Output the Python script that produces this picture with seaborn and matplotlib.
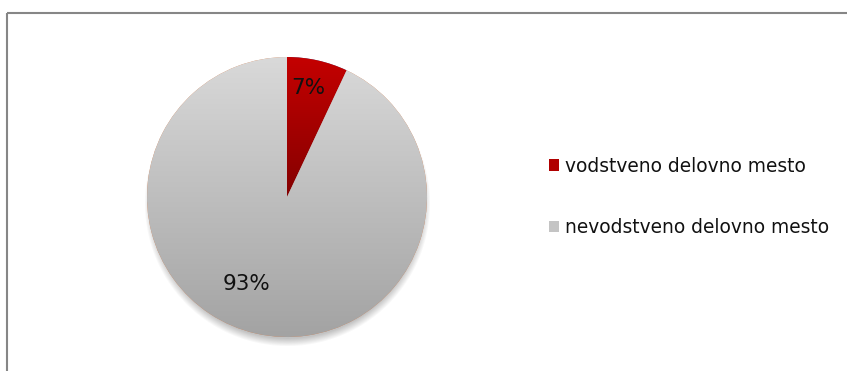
import numpy as np
import matplotlib
matplotlib.use("Agg")
import matplotlib.pyplot as plt
import seaborn as sns
from matplotlib.patches import Patch
from matplotlib.colors import LinearSegmentedColormap

# Share of respondents by type of work position
categories = ["vodstveno delovno mesto", "nevodstveno delovno mesto"]
shares = [7, 93]
top_colors = ["#c40000", "#d9d9d9"]
bottom_colors = ["#840000", "#a3a3a3"]
legend_colors = ["#b00000", "#c4c4c4"]

sns.set_theme(style="white")
plt.rcParams["font.family"] = ["DejaVu Sans"]

W, H = 847, 371
fig = plt.figure(figsize=(W / 100, H / 100), dpi=100)
ax = fig.add_axes([0, 0, 1, 1])
ax.set_xlim(0, W)
ax.set_ylim(0, H)
ax.set_aspect("equal")
ax.axis("off")

cx, cy, r = 287, H - 197, 140

# soft drop shadow under the pie
sx0, sx1, sy0, sy1 = cx - r - 20, cx + r + 20, cy - r - 20, cy + r + 20
yy, xx = np.mgrid[sy1:sy0:-1, sx0:sx1]
d = np.hypot(xx - cx, yy - (cy - 6))
alpha = np.clip((r - 1 - d) / 8.0 + 0.5, 0, 1) * 0.42
shadow = np.zeros(d.shape + (4,))
shadow[..., :3] = 0.45
shadow[..., 3] = alpha
ax.imshow(shadow, extent=[sx0, sx1, sy0, sy1], origin="upper", zorder=0.5,
          interpolation="bilinear")

wedges, texts, autotexts = ax.pie(
    shares, startangle=90, counterclock=False, center=(cx, cy), radius=r,
    autopct="%.0f%%", pctdistance=0.78,
    wedgeprops=dict(linewidth=0),
    textprops=dict(fontsize=15.5, color="#111111"),
)
ax.set_xlim(0, W)
ax.set_ylim(0, H)

# vertical gradient fill for each slice
for w, c_top, c_bot in zip(wedges, top_colors, bottom_colors):
    w.set_zorder(1)
    ext = w.get_path().get_extents()
    cmap = LinearSegmentedColormap.from_list("g", [c_top, c_bot])
    grad = np.linspace(0, 1, 256).reshape(-1, 1)
    im = ax.imshow(grad, extent=[ext.x0, ext.x1, ext.y0, ext.y1], origin="upper",
                   cmap=cmap, aspect="auto", zorder=1.5, interpolation="bilinear")
    im.set_clip_path(w)

for t in autotexts:
    t.set_zorder(3)
autotexts[0].set_position((308, H - 88))
autotexts[1].set_position((246, H - 284))

handles = [Patch(facecolor=c, edgecolor="none") for c in legend_colors]
ax.legend(handles, categories, loc="center left",
          bbox_to_anchor=(549 / W, 1 - 197 / H), bbox_transform=fig.transFigure,
          frameon=False, fontsize=13.4, handlelength=0.55, handleheight=0.55,
          handletextpad=0.3, labelspacing=2.3, borderpad=0, borderaxespad=0,
          labelcolor="#111111")

# chart area outline (top and left edges)
ax.plot([6.5, W], [H - 12.5, H - 12.5], color="#868686", lw=1.5, solid_capstyle="butt")
ax.plot([6.5, 6.5], [0, H - 12.5], color="#868686", lw=1.5, solid_capstyle="butt")

fig.savefig("out.png", dpi=100, facecolor="white")
